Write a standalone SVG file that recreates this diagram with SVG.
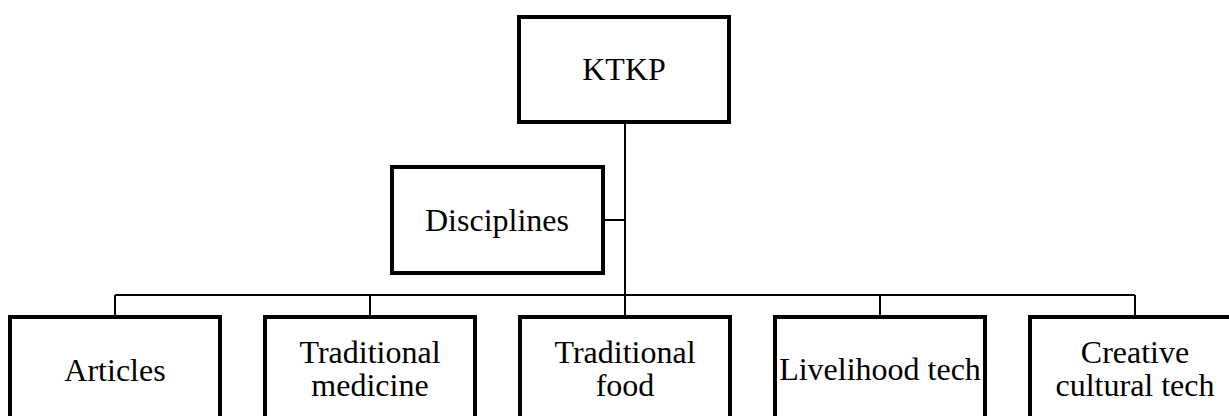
<svg xmlns="http://www.w3.org/2000/svg" width="1229" height="416" viewBox="0 0 1229 416">
<style>
.box{fill:#fff;stroke:#000;stroke-width:4}
.conn{fill:none;stroke:#000;stroke-width:2}
text{font-family:"Liberation Serif","Times New Roman",serif;font-size:32px;fill:#000;text-anchor:middle}
</style>
<rect width="1229" height="416" fill="#fff"/>
<g id="connectors">
<path class="conn" d="M625 122V295M603 220H625M115 295H1135M115 295V317M370 295V317M625 295V317M880 295V317M1135 295V317"/>
</g>
<g id="ktkp"><rect class="box" x="519" y="17" width="210" height="105"/><text x="624" y="80">KTKP</text></g>
<g id="disciplines"><rect class="box" x="392" y="167" width="211" height="106"/><text x="497" y="231">Disciplines</text></g>
<g id="articles"><rect class="box" x="10" y="317" width="210" height="106"/><text x="115" y="381">Articles</text></g>
<g id="medicine"><rect class="box" x="265" y="317" width="210" height="106"/><text x="370" y="363">Traditional</text><text x="370" y="396">medicine</text></g>
<g id="food"><rect class="box" x="520" y="317" width="210" height="106"/><text x="625" y="363">Traditional</text><text x="625" y="396">food</text></g>
<g id="livelihood"><rect class="box" x="775" y="317" width="210" height="106"/><text x="880" y="380">Livelihood tech</text></g>
<g id="creative"><rect class="box" x="1030" y="317" width="210" height="106"/><text x="1135" y="363">Creative</text><text x="1135" y="396">cultural tech</text></g>
</svg>
